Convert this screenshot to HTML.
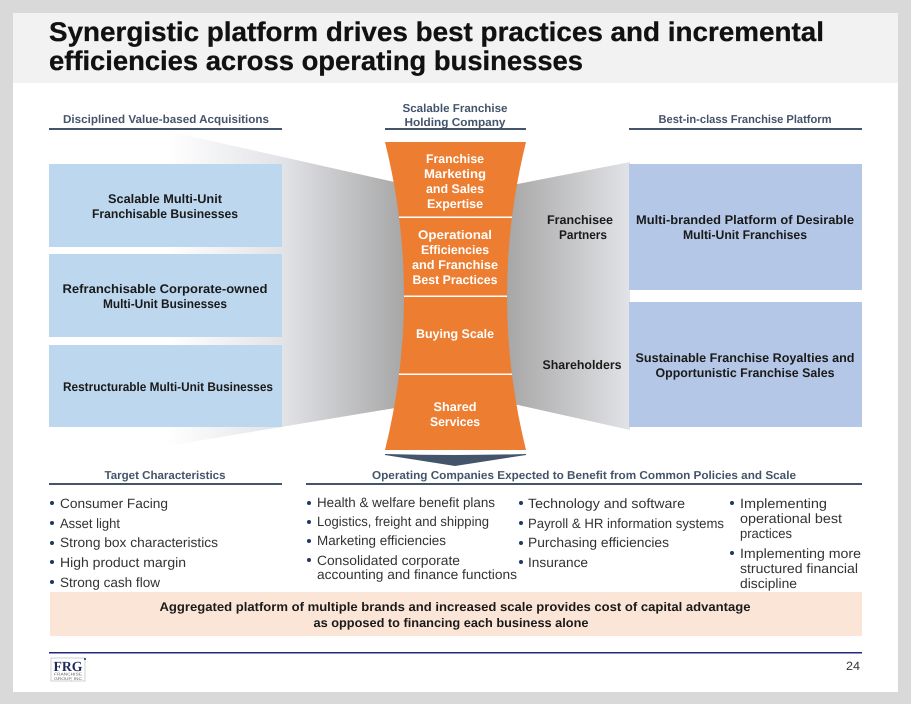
<!DOCTYPE html>
<html><head><meta charset="utf-8"><style>
html,body{margin:0;padding:0;background:#d9d9d9}
svg{display:block}
text{font-family:"Liberation Sans",sans-serif;text-rendering:geometricPrecision}
.h{font-size:11.500px;font-weight:bold;fill:#44546a;text-anchor:middle}
.b{font-size:12.500px;font-weight:bold;fill:#1a1a1a;text-anchor:middle}
.w{font-size:12.500px;font-weight:bold;fill:#fff;text-anchor:middle}
.l{font-size:13.500px;fill:#333}
.t{font-size:27px;font-weight:bold;fill:#111;stroke:#111;stroke-width:.3px}
.d{fill:#1f3864}
</style></head><body>
<svg width="911" height="704" viewBox="0 0 911 704" xmlns="http://www.w3.org/2000/svg">
<defs>
<linearGradient id="gl" gradientUnits="userSpaceOnUse" x1="167" x2="405" y1="0" y2="0"><stop offset="0" stop-color="#fff"/><stop offset=".49" stop-color="#e2e3e7"/><stop offset="1" stop-color="#a6a6a6"/></linearGradient>
<linearGradient id="gr" gradientUnits="userSpaceOnUse" x1="506" x2="630" y1="0" y2="0"><stop offset="0" stop-color="#a6a6a6"/><stop offset="1" stop-color="#e2e3e7"/></linearGradient>
</defs>
<rect width="911" height="704" fill="#d9d9d9"/>
<rect x="13" y="13" width="885" height="679" fill="#fff"/>
<rect x="13" y="13" width="885" height="70" fill="#f2f2f2"/>
<text class="t" x="49" y="41" textLength="775" lengthAdjust="spacingAndGlyphs">Synergistic platform drives best practices and incremental</text>
<text class="t" x="49" y="70" textLength="534" lengthAdjust="spacingAndGlyphs">efficiencies across operating businesses</text>

<polygon points="167,131 410,185.500 410,405.500 167,446" fill="url(#gl)"/>
<polygon points="500,187.500 630,162 630,430 500,401" fill="url(#gr)"/>

<text class="h" x="166" y="123" textLength="206" lengthAdjust="spacingAndGlyphs">Disciplined Value-based Acquisitions</text>
<rect x="49" y="128" width="233" height="2" fill="#44546a"/>
<text class="h" x="455" y="112" textLength="105" lengthAdjust="spacingAndGlyphs">Scalable Franchise</text>
<text class="h" x="455" y="126" textLength="101" lengthAdjust="spacingAndGlyphs">Holding Company</text>
<rect x="385" y="128" width="141" height="2" fill="#44546a"/>
<text class="h" x="745" y="123" textLength="173" lengthAdjust="spacingAndGlyphs">Best-in-class Franchise Platform</text>
<rect x="629" y="128" width="233" height="2" fill="#44546a"/>

<rect x="49" y="164" width="233" height="83" fill="#bdd7ee"/>
<rect x="49" y="254" width="233" height="83" fill="#bdd7ee"/>
<rect x="49" y="345" width="233" height="82" fill="#bdd7ee"/>
<rect x="629" y="164" width="233" height="126" fill="#b4c7e7"/>
<rect x="629" y="302" width="233" height="125" fill="#b4c7e7"/>

<text class="b" x="165" y="203" textLength="114" lengthAdjust="spacingAndGlyphs">Scalable Multi-Unit</text>
<text class="b" x="165" y="218" textLength="146" lengthAdjust="spacingAndGlyphs">Franchisable Businesses</text>
<text class="b" x="165" y="293" textLength="205" lengthAdjust="spacingAndGlyphs">Refranchisable Corporate-owned</text>
<text class="b" x="165" y="308" textLength="124" lengthAdjust="spacingAndGlyphs">Multi-Unit Businesses</text>
<text class="b" x="168" y="391" textLength="210" lengthAdjust="spacingAndGlyphs">Restructurable Multi-Unit Businesses</text>
<text class="b" x="745" y="224" textLength="218" lengthAdjust="spacingAndGlyphs">Multi-branded Platform of Desirable</text>
<text class="b" x="745" y="239" textLength="124" lengthAdjust="spacingAndGlyphs">Multi-Unit Franchises</text>
<text class="b" x="745" y="362" textLength="219" lengthAdjust="spacingAndGlyphs">Sustainable Franchise Royalties and</text>
<text class="b" x="745" y="377" textLength="179" lengthAdjust="spacingAndGlyphs">Opportunistic Franchise Sales</text>
<text class="b" x="580" y="224" textLength="66" lengthAdjust="spacingAndGlyphs">Franchisee</text>
<text class="b" x="583" y="239" textLength="48" lengthAdjust="spacingAndGlyphs">Partners</text>
<text class="b" x="582" y="369" textLength="79" lengthAdjust="spacingAndGlyphs">Shareholders</text>

<path d="M385,142 L526,142 Q488,296 526,450 L385,450 Q423,296 385,142 Z" fill="#ed7d31"/>
<rect x="399" y="216.500" width="113" height="1.500" fill="#fff"/>
<rect x="404" y="295.500" width="103" height="1.500" fill="#fff"/>
<rect x="399" y="373.500" width="113" height="1.500" fill="#fff"/>
<path d="M385,454 Q455,456 526,454 L526,455 L455,466 L385,455 Z" fill="#44546a"/>
<text class="w" x="455" y="163" textLength="58" lengthAdjust="spacingAndGlyphs">Franchise</text>
<text class="w" x="455" y="178" textLength="62" lengthAdjust="spacingAndGlyphs">Marketing</text>
<text class="w" x="455" y="193" textLength="58" lengthAdjust="spacingAndGlyphs">and Sales</text>
<text class="w" x="455" y="208" textLength="56" lengthAdjust="spacingAndGlyphs">Expertise</text>
<text class="w" x="455" y="239" textLength="74" lengthAdjust="spacingAndGlyphs">Operational</text>
<text class="w" x="455" y="254" textLength="68" lengthAdjust="spacingAndGlyphs">Efficiencies</text>
<text class="w" x="455" y="269" textLength="86" lengthAdjust="spacingAndGlyphs">and Franchise</text>
<text class="w" x="455" y="284" textLength="85" lengthAdjust="spacingAndGlyphs">Best Practices</text>
<text class="w" x="455" y="338" textLength="78" lengthAdjust="spacingAndGlyphs">Buying Scale</text>
<text class="w" x="455" y="411" textLength="43" lengthAdjust="spacingAndGlyphs">Shared</text>
<text class="w" x="455" y="426" textLength="50" lengthAdjust="spacingAndGlyphs">Services</text>

<text class="h" x="165" y="479" textLength="121" lengthAdjust="spacingAndGlyphs">Target Characteristics</text>
<rect x="49" y="483" width="233" height="2" fill="#44546a"/>
<text class="h" x="584" y="479" textLength="424" lengthAdjust="spacingAndGlyphs">Operating Companies Expected to Benefit from Common Policies and Scale</text>
<rect x="306" y="483" width="556" height="2" fill="#44546a"/>

<circle class="d" cx="52" cy="503" r="2"/>
<text class="l" x="60" y="508" textLength="108" lengthAdjust="spacingAndGlyphs">Consumer Facing</text>
<circle class="d" cx="52" cy="523" r="2"/>
<text class="l" x="60" y="528" textLength="60" lengthAdjust="spacingAndGlyphs">Asset light</text>
<circle class="d" cx="52" cy="543" r="2"/>
<text class="l" x="60" y="547" textLength="158" lengthAdjust="spacingAndGlyphs">Strong box characteristics</text>
<circle class="d" cx="52" cy="562" r="2"/>
<text class="l" x="60" y="567" textLength="126" lengthAdjust="spacingAndGlyphs">High product margin</text>
<circle class="d" cx="52" cy="582" r="2"/>
<text class="l" x="60" y="587" textLength="100" lengthAdjust="spacingAndGlyphs">Strong cash flow</text>

<circle class="d" cx="309" cy="503" r="2"/>
<text class="l" x="317" y="507" textLength="178" lengthAdjust="spacingAndGlyphs">Health &amp; welfare benefit plans</text>
<circle class="d" cx="309" cy="522" r="2"/>
<text class="l" x="317" y="526" textLength="172" lengthAdjust="spacingAndGlyphs">Logistics, freight and shipping</text>
<circle class="d" cx="309" cy="541" r="2"/>
<text class="l" x="317" y="545" textLength="129" lengthAdjust="spacingAndGlyphs">Marketing efficiencies</text>
<circle class="d" cx="309" cy="560" r="2"/>
<text class="l" x="317" y="565" textLength="143" lengthAdjust="spacingAndGlyphs">Consolidated corporate</text>
<text class="l" x="317" y="579" textLength="200" lengthAdjust="spacingAndGlyphs">accounting and finance functions</text>

<circle class="d" cx="521" cy="503" r="2"/>
<text class="l" x="528" y="508" textLength="157" lengthAdjust="spacingAndGlyphs">Technology and software</text>
<circle class="d" cx="521" cy="523" r="2"/>
<text class="l" x="528" y="528" textLength="196" lengthAdjust="spacingAndGlyphs">Payroll &amp; HR information systems</text>
<circle class="d" cx="521" cy="543" r="2"/>
<text class="l" x="528" y="547" textLength="141" lengthAdjust="spacingAndGlyphs">Purchasing efficiencies</text>
<circle class="d" cx="521" cy="562" r="2"/>
<text class="l" x="528" y="567" textLength="60" lengthAdjust="spacingAndGlyphs">Insurance</text>

<circle class="d" cx="732" cy="503" r="2"/>
<text class="l" x="740" y="508" textLength="87" lengthAdjust="spacingAndGlyphs">Implementing</text>
<text class="l" x="740" y="523" textLength="102" lengthAdjust="spacingAndGlyphs">operational best</text>
<text class="l" x="740" y="538" textLength="52" lengthAdjust="spacingAndGlyphs">practices</text>
<circle class="d" cx="732" cy="553" r="2"/>
<text class="l" x="740" y="558" textLength="121" lengthAdjust="spacingAndGlyphs">Implementing more</text>
<text class="l" x="740" y="573" textLength="118" lengthAdjust="spacingAndGlyphs">structured financial</text>
<text class="l" x="740" y="588" textLength="57" lengthAdjust="spacingAndGlyphs">discipline</text>

<rect x="50" y="592" width="812" height="44" fill="#fbe5d6"/>
<text class="b" x="455" y="611" textLength="591" lengthAdjust="spacingAndGlyphs">Aggregated platform of multiple brands and increased scale provides cost of capital advantage</text>
<text class="b" x="451" y="627" textLength="275" lengthAdjust="spacingAndGlyphs">as opposed to financing each business alone</text>

<rect x="49" y="652" width="813" height="1.500" fill="#1f2a7a"/>
<rect x="51" y="658" width="34" height="23" fill="#fff" stroke="#b8bcc8" stroke-width="0.700"/>
<circle cx="85" cy="659" r="1" fill="#1f2a5a"/>
<text x="68" y="671" text-anchor="middle" textLength="29" lengthAdjust="spacingAndGlyphs" style="font-family:'Liberation Serif',serif;font-size:14px;font-weight:bold;fill:#1f2a5a">FRG</text>
<text x="68" y="675.500" text-anchor="middle" textLength="28" lengthAdjust="spacingAndGlyphs" style="font-size:4px;fill:#666">FRANCHISE</text>
<text x="68" y="680" text-anchor="middle" textLength="28" lengthAdjust="spacingAndGlyphs" style="font-size:4px;fill:#666">GROUP, INC</text>
<text x="846" y="670" textLength="14" lengthAdjust="spacingAndGlyphs" style="font-family:'Liberation Sans',sans-serif;font-size:12px;fill:#333">24</text>
</svg>
</body></html>
